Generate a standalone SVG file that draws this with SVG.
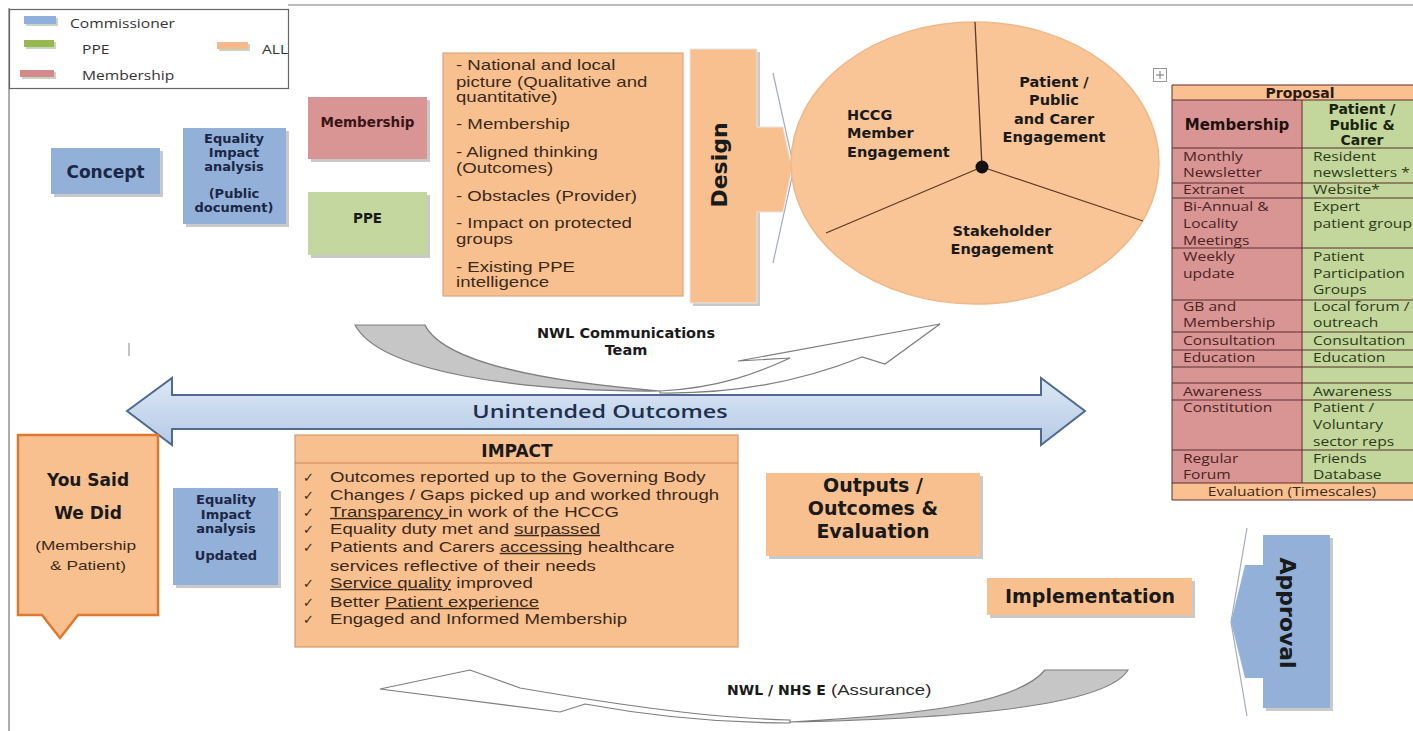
<svg xmlns="http://www.w3.org/2000/svg" width="1413" height="731" viewBox="0 0 1413 731">
<defs>
<linearGradient id="gBlue" x1="0" y1="0" x2="0" y2="1">
<stop offset="0" stop-color="#dde8f5"/><stop offset="1" stop-color="#b4cae6"/>
</linearGradient>
</defs>
<style>
.b{font-family:"DejaVu Sans",sans-serif;font-weight:bold;}
.r{font-family:"Liberation Sans",Arial,sans-serif;}
.o{font-family:"Open Sans",sans-serif;}
.sh{fill:#c9c9c9;}
.blue{fill:#93b0d8;}
.pink{fill:#d99594;}
.green{fill:#c4d79e;}
.org{fill:#f9c08f;}
.navy{fill:#1b2746;}
.dk{fill:#1a1a1a;}
.brn{fill:#3a2a1c;}
.tl{stroke:#5a2e2e;stroke-width:1;}
.cg{fill:#c6c6c6;stroke:#7d7d7d;stroke-width:1.2;}
.cw{fill:#ffffff;stroke:#7d7d7d;stroke-width:1.2;}
</style>
<rect width="1413" height="731" fill="#ffffff"/>

<!-- frame and legend -->
<g id="legend">
<line x1="9" y1="8" x2="9" y2="731" stroke="#777" stroke-width="1.2"/>
<line x1="288" y1="5" x2="1413" y2="5" stroke="#777" stroke-width="1.2"/>
<rect x="9.5" y="9.5" width="279" height="79" fill="#fff" stroke="#666" stroke-width="1.2"/>
<rect x="26" y="18" width="32" height="8" fill="#c8d5c0"/>
<rect x="24" y="16" width="32" height="8" fill="#8fb0dc"/>
<rect x="26" y="42" width="30" height="7" fill="#c8d5c0"/>
<rect x="24" y="40" width="30" height="7" fill="#96b84e"/>
<rect x="22" y="72" width="34" height="7" fill="#c8d5c0"/>
<rect x="20" y="70" width="34" height="7" fill="#d48a8a"/>
<rect x="219" y="44" width="31" height="7" fill="#c8d5c0"/>
<rect x="217" y="42" width="31" height="7" fill="#f5b98d"/>
<g class="o" font-size="12" fill="#333">
<text transform="matrix(1.3 0 0 1 70 28)">Commissioner</text>
<text transform="matrix(1.3 0 0 1 82 54)">PPE</text>
<text transform="matrix(1.3 0 0 1 82 80)">Membership</text>
<text transform="matrix(1.3 0 0 1 262 54)">ALL</text>
</g>
</g>

<g id="concept">
<rect class="sh" x="54" y="151" width="109" height="46"/>
<rect class="blue" x="51" y="148" width="109" height="46"/>
<text class="b navy" font-size="17" x="105.5" y="178" text-anchor="middle">Concept</text>
</g>

<g id="eia-public">
<rect class="sh" x="186" y="131" width="103" height="96"/>
<rect class="blue" x="183" y="128" width="103" height="96"/>
<g class="b navy" font-size="13" text-anchor="middle">
<text x="234" y="143">Equality</text>
<text x="234" y="157">Impact</text>
<text x="234" y="171">analysis</text>
<text x="234" y="198">(Public</text>
<text x="234" y="212">document)</text>
</g>
</g>

<g id="membership">
<rect class="sh" x="311" y="100" width="119" height="62"/>
<rect class="pink" x="308" y="97" width="119" height="62"/>
<text class="b" fill="#3a1414" font-size="13.5" x="367.5" y="127" text-anchor="middle">Membership</text>
</g>

<g id="ppe">
<rect class="sh" x="311" y="195" width="119" height="63"/>
<rect class="green" x="308" y="192" width="119" height="63"/>
<text class="b dk" font-size="13.5" x="367.5" y="223" text-anchor="middle">PPE</text>
</g>

<g id="design-notes">
<rect x="443" y="53" width="240" height="243" class="org" stroke="#d9a67e" stroke-width="1.2"/>
<text class="r brn" font-size="14" transform="matrix(1.33 0 0 1 456 0)">
<tspan x="0" y="70">- National and local</tspan>
<tspan x="0" y="87">picture (Qualitative and</tspan>
<tspan x="0" y="102">quantitative)</tspan>
<tspan x="0" y="129">- Membership</tspan>
<tspan x="0" y="157">- Aligned thinking</tspan>
<tspan x="0" y="173">(Outcomes)</tspan>
<tspan x="0" y="201">- Obstacles (Provider)</tspan>
<tspan x="0" y="228">- Impact on protected</tspan>
<tspan x="0" y="244">groups</tspan>
<tspan x="0" y="272">- Existing PPE</tspan>
<tspan x="0" y="287">intelligence</tspan>
</text>
</g>

<g id="design">
<path d="M773,73 L794,168 L773,263" fill="none" stroke="#a3acba" stroke-width="1.2"/>
<path d="M693,52 H760 V306 H693 Z" class="sh"/>
<path d="M690,49 H757 V127 H783 L792,168 L783,212 H757 V303 H690 Z" class="org" stroke="#e6e6e6" stroke-width="1"/>
<text class="b dk" font-size="22" transform="translate(727,165) rotate(-90)" text-anchor="middle">Design</text>
</g>

<g id="engagement">
<ellipse cx="975" cy="163" rx="184" ry="141" fill="#f9c597" stroke="#efb889" stroke-width="1.5"/>
<g stroke="#5a3a28" stroke-width="1.3">
<line x1="982" y1="167" x2="975" y2="22"/>
<line x1="982" y1="167" x2="826" y2="233"/>
<line x1="982" y1="167" x2="1143" y2="221"/>
</g>
<circle cx="982" cy="167" r="6.5" fill="#111"/>
<g class="b dk" font-size="14.5">
<text x="847" y="120">HCCG</text>
<text x="847" y="138">Member</text>
<text x="847" y="157">Engagement</text>
</g>
<g class="b dk" font-size="14.5" text-anchor="middle">
<text x="1054" y="87">Patient /</text>
<text x="1054" y="105">Public</text>
<text x="1054" y="124">and Carer</text>
<text x="1054" y="142">Engagement</text>
<text x="1002" y="236">Stakeholder</text>
<text x="1002" y="254">Engagement</text>
</g>
</g>

<g id="table-handle">
<rect x="1153.5" y="68.5" width="13" height="13" fill="#fff" stroke="#999"/>
<path d="M1160,71 V79 M1156,75 H1164" stroke="#777" stroke-width="1"/>
</g>

<g id="proposal-table">
<rect x="1172" y="85" width="241" height="15" fill="#fac090"/>
<rect x="1172" y="100" width="130" height="383" fill="#d99594"/>
<rect x="1302" y="100" width="111" height="383" fill="#c3d69b"/>
<rect x="1172" y="483" width="241" height="17" fill="#fac090"/>
<g class="tl">
<line x1="1172" y1="85" x2="1413" y2="85"/>
<line x1="1172" y1="100" x2="1413" y2="100"/>
<line x1="1172" y1="148" x2="1413" y2="148"/>
<line x1="1172" y1="183" x2="1413" y2="183"/>
<line x1="1172" y1="198" x2="1413" y2="198"/>
<line x1="1172" y1="248" x2="1413" y2="248"/>
<line x1="1172" y1="300" x2="1413" y2="300"/>
<line x1="1172" y1="332" x2="1413" y2="332"/>
<line x1="1172" y1="350" x2="1413" y2="350"/>
<line x1="1172" y1="367" x2="1413" y2="367"/>
<line x1="1172" y1="383" x2="1413" y2="383"/>
<line x1="1172" y1="400" x2="1413" y2="400"/>
<line x1="1172" y1="450" x2="1413" y2="450"/>
<line x1="1172" y1="483" x2="1413" y2="483"/>
<line x1="1172" y1="500" x2="1413" y2="500"/>
<line x1="1172" y1="85" x2="1172" y2="500"/>
<line x1="1302" y1="100" x2="1302" y2="483"/>
</g>
<text class="b" fill="#2a1a10" font-size="14" x="1300" y="98" text-anchor="middle">Proposal</text>
<text class="b" fill="#1f1010" font-size="15" x="1237" y="130" text-anchor="middle">Membership</text>
<g class="b" fill="#1a2410" font-size="14" text-anchor="middle">
<text x="1362" y="114">Patient /</text>
<text x="1362" y="130">Public &amp;</text>
<text x="1362" y="145">Carer</text>
</g>
<text class="o" font-size="12" fill="#4a2222" transform="matrix(1.3 0 0 1 1183 0)">
<tspan x="0" y="161">Monthly</tspan>
<tspan x="0" y="177">Newsletter</tspan>
<tspan x="0" y="194">Extranet</tspan>
<tspan x="0" y="211">Bi-Annual &amp;</tspan>
<tspan x="0" y="228">Locality</tspan>
<tspan x="0" y="245">Meetings</tspan>
<tspan x="0" y="261">Weekly</tspan>
<tspan x="0" y="278">update</tspan>
<tspan x="0" y="311">GB and</tspan>
<tspan x="0" y="327">Membership</tspan>
<tspan x="0" y="345">Consultation</tspan>
<tspan x="0" y="362">Education</tspan>
<tspan x="0" y="396">Awareness</tspan>
<tspan x="0" y="412">Constitution</tspan>
<tspan x="0" y="463">Regular</tspan>
<tspan x="0" y="479">Forum</tspan>
</text>
<text class="o" font-size="12" fill="#2c3a18" transform="matrix(1.3 0 0 1 1313 0)">
<tspan x="0" y="161">Resident</tspan>
<tspan x="0" y="177">newsletters *</tspan>
<tspan x="0" y="194">Website*</tspan>
<tspan x="0" y="211">Expert</tspan>
<tspan x="0" y="228">patient group</tspan>
<tspan x="0" y="261">Patient</tspan>
<tspan x="0" y="278">Participation</tspan>
<tspan x="0" y="294">Groups</tspan>
<tspan x="0" y="311">Local forum /</tspan>
<tspan x="0" y="327">outreach</tspan>
<tspan x="0" y="345">Consultation</tspan>
<tspan x="0" y="362">Education</tspan>
<tspan x="0" y="396">Awareness</tspan>
<tspan x="0" y="412">Patient /</tspan>
<tspan x="0" y="429">Voluntary</tspan>
<tspan x="0" y="446">sector reps</tspan>
<tspan x="0" y="463">Friends</tspan>
<tspan x="0" y="479">Database</tspan>
</text>
<text class="o" font-size="12" fill="#3a2a1a" transform="matrix(1.3 0 0 1 1292 496)" text-anchor="middle">Evaluation (Timescales)</text>
</g>

<g id="connectors">
<line x1="129" y1="343" x2="129" y2="356" stroke="#9a9a9a" stroke-width="1.2"/>
<path class="cg" d="M355,325 L425,325 C438,352 500,378 660,391 C520,392 380,372 355,325 Z"/>
<path class="cw" d="M660,391 C720,388 760,372 790,358 L738,361 L940,324 L885,364 L862,357 C800,382 730,394 660,393 Z"/>
<path d="M127,411 L172,378 L172,395 L1041,395 L1041,378 L1085,411 L1041,445 L1041,429 L172,429 L172,445 Z" fill="url(#gBlue)" stroke="#4e6a8e" stroke-width="2" stroke-linejoin="miter"/>
<path class="cg" d="M1045,670 L1128,670 C1110,700 1000,718 790,722 C940,714 1020,700 1045,670 Z"/>
<path class="cw" d="M790,720 C700,718 590,700 520,688 L470,670 L380,689 L560,712 L585,704 C650,716 720,723 790,723 Z"/>
</g>

<g id="labels-connectors">
<g class="b dk" font-size="14.5" text-anchor="middle">
<text x="626" y="338">NWL Communications</text>
<text x="626" y="355">Team</text>
</g>
<text class="o" font-size="18" fill="#1f2f4f" font-weight="600" transform="matrix(1.3 0 0 1 600 418)" text-anchor="middle">Unintended Outcomes</text>
<text class="b dk" font-size="14" x="727" y="695">NWL / NHS E</text>
<text class="r" font-size="14" fill="#2a2a2a" transform="matrix(1.33 0 0 1 831 695)">(Assurance)</text>
</g>

<g id="you-said">
<path d="M18,435 H158 V615 H78 L60,638 L42,615 H18 Z" class="org" stroke="#e2782e" stroke-width="2.5" stroke-linejoin="miter"/>
<g class="b dk" font-size="17" text-anchor="middle">
<text x="88" y="486">You Said</text>
<text x="88" y="519">We Did</text>
</g>
<text class="r" font-size="13" fill="#3a2a1c" transform="matrix(1.33 0 0 1 88 0)" text-anchor="middle">
<tspan x="0" y="550">(Membership</tspan>
<tspan x="0" y="570">&amp; Patient)</tspan>
</text>
</g>

<g id="eia-updated">
<rect class="sh" x="176" y="491" width="105" height="97"/>
<rect class="blue" x="173" y="488" width="105" height="97"/>
<g class="b navy" font-size="13" text-anchor="middle">
<text x="226" y="504">Equality</text>
<text x="226" y="519">Impact</text>
<text x="226" y="533">analysis</text>
<text x="226" y="560">Updated</text>
</g>
</g>

<g id="impact">
<rect x="295" y="435" width="443" height="212" class="org" stroke="#d49a6c" stroke-width="1.2"/>
<line x1="295" y1="463" x2="738" y2="463" stroke="#c8865a" stroke-width="1.2"/>
<text class="b dk" font-size="17" x="517" y="457" text-anchor="middle">IMPACT</text>
<g font-family="DejaVu Sans,sans-serif" font-size="13" fill="#3a2a1a">
<text x="303" y="482">✓</text>
<text x="303" y="500">✓</text>
<text x="303" y="517">✓</text>
<text x="303" y="534">✓</text>
<text x="303" y="552">✓</text>
<text x="303" y="588">✓</text>
<text x="303" y="607">✓</text>
<text x="303" y="624">✓</text>
</g>
<text class="r brn" font-size="14" transform="matrix(1.33 0 0 1 330 0)">
<tspan x="0" y="482">Outcomes reported up to the Governing Body</tspan>
<tspan x="0" y="500">Changes / Gaps picked up and worked through</tspan>
<tspan x="0" y="517"><tspan text-decoration="underline">Transparency </tspan>in work of the HCCG</tspan>
<tspan x="0" y="534">Equality duty met and <tspan text-decoration="underline">surpassed</tspan></tspan>
<tspan x="0" y="552">Patients and Carers <tspan text-decoration="underline">accessing</tspan> healthcare</tspan>
<tspan x="0" y="571">services reflective of their needs</tspan>
<tspan x="0" y="588"><tspan text-decoration="underline">Service quality</tspan> improved</tspan>
<tspan x="0" y="607">Better <tspan text-decoration="underline">Patient experience</tspan></tspan>
<tspan x="0" y="624">Engaged and Informed Membership</tspan>
</text>
</g>

<g id="outputs">
<rect class="sh" x="769" y="476" width="214" height="83"/>
<rect class="org" x="766" y="473" width="214" height="83"/>
<g class="b dk" font-size="19" text-anchor="middle">
<text x="873" y="492">Outputs /</text>
<text x="873" y="515">Outcomes &amp;</text>
<text x="873" y="538">Evaluation</text>
</g>
</g>

<g id="implementation">
<rect class="sh" x="990" y="581" width="205" height="37"/>
<rect class="org" x="987" y="578" width="205" height="37"/>
<text class="b dk" font-size="19" x="1090" y="603" text-anchor="middle">Implementation</text>
</g>

<g id="approval">
<path d="M1247,528 L1231,622 L1247,716" fill="none" stroke="#a3acba" stroke-width="1.2"/>
<rect class="sh" x="1266" y="538" width="67" height="173"/>
<path d="M1330,535 H1263 V565 H1245 L1231,622 L1245,678 H1263 V708 H1330 Z" class="blue"/>
<text class="b dk" font-size="22" transform="translate(1280,613) rotate(90)" text-anchor="middle">Approval</text>
</g>
</svg>
